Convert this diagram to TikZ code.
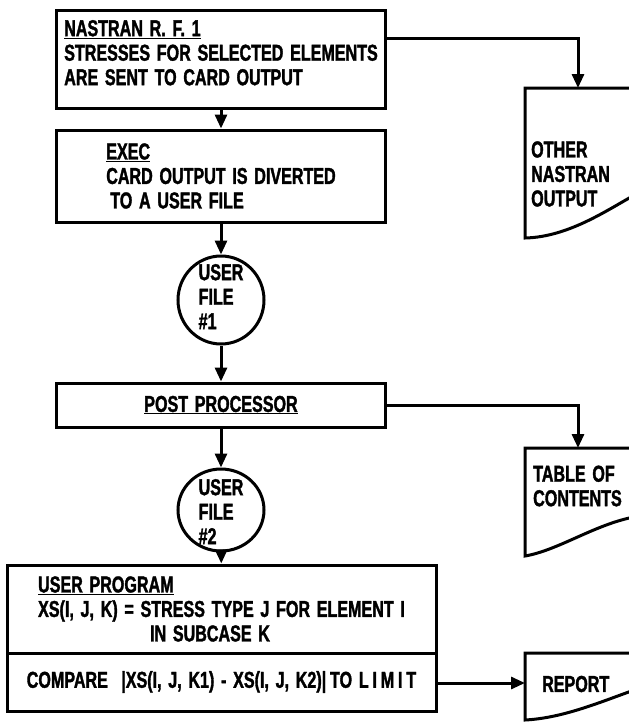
\documentclass[tikz,border=0pt]{standalone}
\usepackage{fontspec}
\setmainfont[FakeStretch=0.70, WordSpace=1.5, BoldFeatures={FakeBold=1.5}]{Liberation Sans}
\usetikzlibrary{shapes.geometric, arrows.meta, positioning}

\begin{document}
\begin{tikzpicture}[x=1pt, y=-1pt,
  txt/.style={font=\bfseries\fontsize{23}{24.5}\selectfont},
  box/.style={rectangle, draw, line width=3pt, txt, align=left, inner sep=0pt},
  file/.style={ellipse, draw, line width=3pt, txt, inner sep=0pt, minimum width=86pt},
  doc/.style={draw, line width=3pt},
  flow/.style={line width=3pt, -{Triangle[length=14pt, width=12pt]}}]

\clip (0,0) rectangle (629,724);
\fill[white] (0,0) rectangle (629,724);

% main column
\node[box, minimum width=329pt, minimum height=98pt] (nastran) at (221,59)
  {\raisebox{-3pt}[0pt][0pt]{\begin{tabular}{@{}l@{}}\underline{NASTRAN R. F. 1}\\STRESSES FOR SELECTED ELEMENTS\\ARE SENT TO CARD OUTPUT\end{tabular}}};
\node[box, minimum width=329pt, minimum height=92pt] (exec) at (221,176)
  {\underline{EXEC}\\CARD OUTPUT IS DIVERTED\\\hspace*{4pt}TO A USER FILE};
\node[file, minimum height=88pt] (file1) at (221,300)
  {\raisebox{-6pt}[0pt][0pt]{\begin{tabular}{@{}l@{}}USER\\FILE\\\#1\end{tabular}}};
\node[box, minimum width=329pt, minimum height=44pt] (post) at (221,405)
  {\underline{POST PROCESSOR}};
\node[file, minimum height=82pt] (file2) at (221,510)
  {\raisebox{-11pt}[0pt][0pt]{\begin{tabular}{@{}l@{}}USER\\FILE\\\#2\end{tabular}}};
\node[box, minimum width=429pt, minimum height=88pt] (prog) at (221.5,609)
  {\underline{USER PROGRAM}\\XS(I, J, K) = STRESS TYPE J FOR ELEMENT I\\\hspace*{112pt}IN SUBCASE K};
\node[box, minimum width=429pt, minimum height=58pt] (cmp) at (221.5,682)
  {COMPARE \ |XS(I, J, K1) - XS(I, J, K2)|\,TO L\,I\,M\,I\,T};

% output documents
\draw[doc] (640,88) -- (525,88) -- (525,238) .. controls (570,237) and (610,208) .. (640,192);
\coordinate (othertop) at (578,88);
\node[txt, align=left, anchor=west, inner sep=0pt] (other) at (531,174) {OTHER\\NASTRAN\\OUTPUT};

\draw[doc] (640,448) -- (525,448) -- (525,556) .. controls (560,550) and (598,522) .. (640,516);
\coordinate (tabletop) at (578,448);
\node[txt, align=left, anchor=west, inner sep=0pt] (table) at (533,486) {TABLE OF\\CONTENTS};

\draw[doc] (640,653) -- (525,653) -- (525,720) .. controls (565,718) and (605,700) .. (640,688);
\coordinate (reportin) at (525,683);
\node[txt, anchor=west, inner sep=0pt] (report) at (542,684) {REPORT};

% connectors
\draw[flow] (nastran) -- (exec);
\draw[flow] (exec) -- (file1);
\draw[flow] (file1) -- (post);
\draw[flow] (post) -- (file2);
\draw[flow] (file2) -- (prog);
\draw[flow] ([yshift=21pt]nastran.east) -| (othertop);
\draw[flow] (post.east) -| (tabletop);
\draw[flow] (cmp.east |- reportin) -- (reportin);

\end{tikzpicture}
\end{document}
